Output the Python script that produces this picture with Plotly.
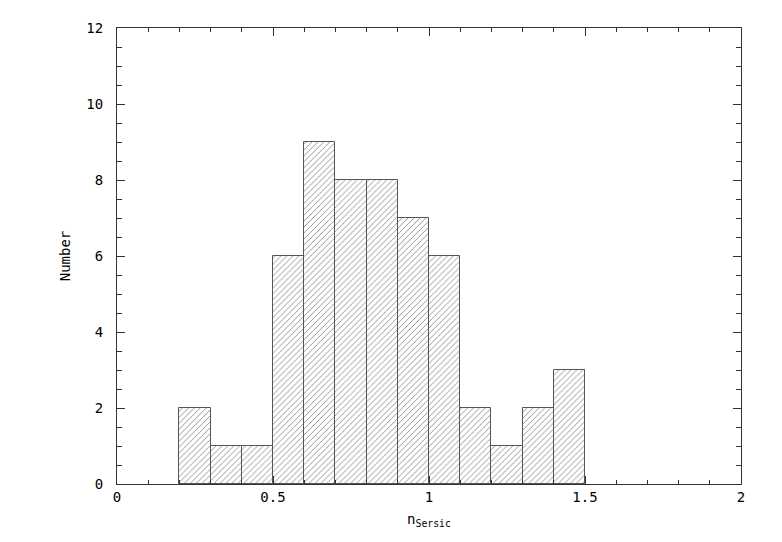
import plotly.graph_objects as go

bin_left = [0.2, 0.3, 0.4, 0.5, 0.6, 0.7, 0.8, 0.9, 1.0, 1.1, 1.2, 1.3, 1.4]
counts = [2, 1, 1, 6, 9, 8, 8, 7, 6, 2, 1, 2, 3]
bin_width = 0.1
x_ticks = [0, 0.5, 1, 1.5, 2]
x_tick_labels = ["0", "0.5", "1", "1.5", "2"]

centers = [b + bin_width / 2 for b in bin_left]

fig = go.Figure(
    go.Bar(x=centers, y=counts, width=bin_width,
           marker=dict(color="white",
                       line=dict(color="#555555", width=1),
                       pattern=dict(shape="/", fgcolor="#222222", bgcolor="white",
                                    size=4.2, solidity=0.22))))

font = dict(family="DejaVu Sans Mono", size=14, color="black")
axis = dict(showline=True, linecolor="#333333", linewidth=1, mirror="ticks",
            ticks="inside", tickcolor="#333333", showgrid=False, zeroline=False)

fig.update_xaxes(range=[0, 2], tickvals=x_ticks, ticktext=x_tick_labels, ticklen=8,
                 minor=dict(dtick=0.1, ticklen=4, ticks="inside", tickcolor="#333333"),
                 title=dict(text="n<sub>Sersic</sub>", font=font, standoff=10), **axis)
fig.update_yaxes(range=[0, 12], dtick=2, ticklen=8, ticklabelstandoff=10,
                 minor=dict(dtick=0.5, ticklen=5, ticks="inside", tickcolor="#333333"),
                 title=dict(text="Number", font=font, standoff=12), **axis)

# page body has an 8px margin, so the plot area is placed 8px up/left
fig.update_layout(width=782, height=542, plot_bgcolor="white", paper_bgcolor="white",
                  font=font, showlegend=False, bargap=0,
                  margin=dict(l=109, r=49, t=18, b=66))

fig.write_html("out.html")
